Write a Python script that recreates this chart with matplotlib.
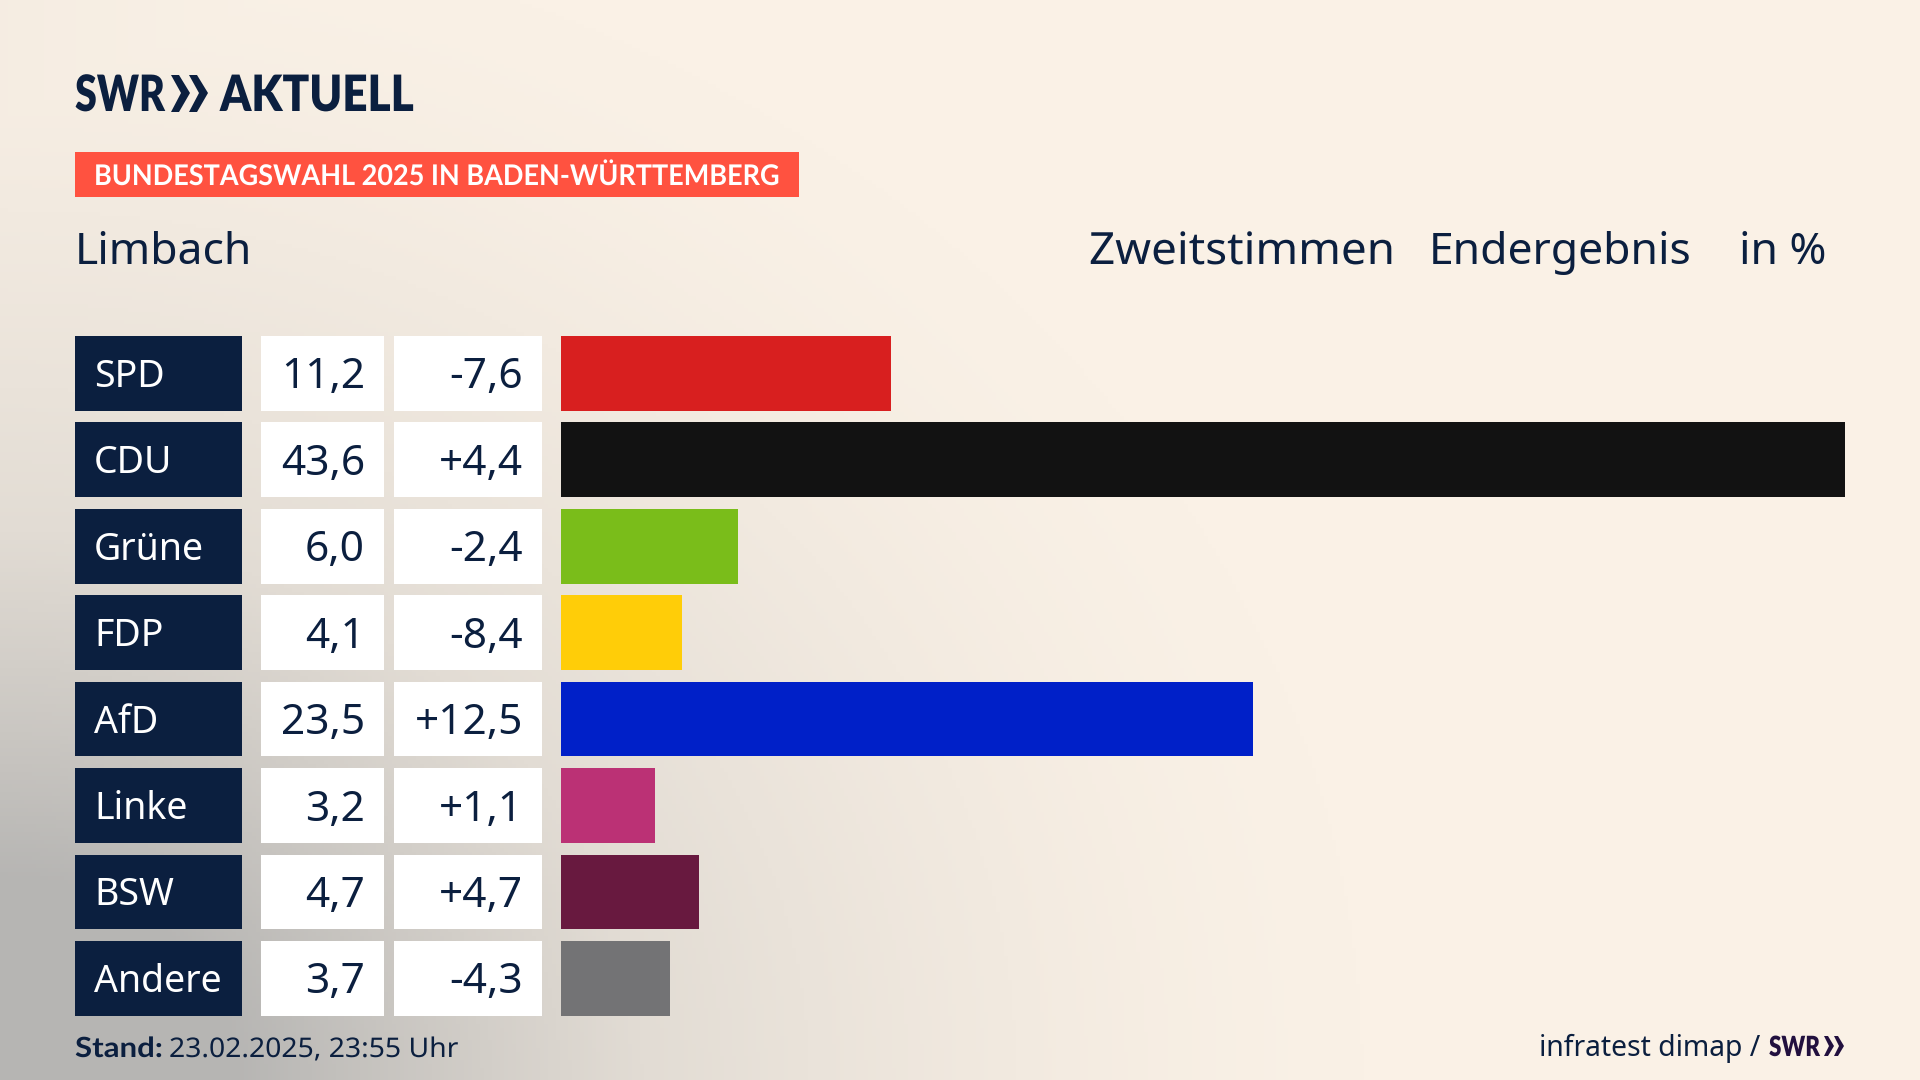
import matplotlib
matplotlib.use('Agg')
import matplotlib.pyplot as plt
from matplotlib.colors import LinearSegmentedColormap
from matplotlib.patches import Polygon, Rectangle
from matplotlib.patheffects import AbstractPathEffect
from matplotlib.transforms import Affine2D
import numpy as np

parties = ['SPD', 'CDU', 'Grüne', 'FDP', 'AfD', 'Linke', 'BSW', 'Andere']
values = [11.2, 43.6, 6.0, 4.1, 23.5, 3.2, 4.7, 3.7]
value_labels = ['11,2', '43,6', '6,0', '4,1', '23,5', '3,2', '4,7', '3,7']
change_labels = ['-7,6', '+4,4', '-2,4', '-8,4', '+12,5', '+1,1', '+4,7', '-4,3']
bar_colors = ['#d81f1f', '#121212', '#7abd1a', '#ffcd08',
              '#0020c8', '#bb3175', '#68193f', '#737375']

DARK = '#0b1f3f'
PURPLE = '#22103f'
plt.rcParams['font.family'] = 'Noto Sans'


class XScale(AbstractPathEffect):
    # squeezes a left aligned text around its start, no condensed font is installed
    def __init__(self, sx):
        self.sx = sx

    def draw_path(self, renderer, gc, tpath, affine, rgbFace=None):
        x0 = affine.get_matrix()[0, 2]
        squeeze = Affine2D().translate(-x0, 0).scale(self.sx, 1).translate(x0, 0)
        renderer.draw_path(gc, tpath, affine + squeeze, rgbFace)


fig = plt.figure(figsize=(19.2, 10.8), dpi=100)
renderer = fig.canvas.get_renderer()


def fit_text(x, y, s, width, **kw):
    t = ax.text(x, y, s, va='baseline', **kw)
    t.set_path_effects([XScale(width / t.get_window_extent(renderer).width)])
    return t


# page in pixel coordinates
ax = fig.add_axes([0, 0, 1, 1], zorder=0)
yy, xx = np.mgrid[0:1080:270j, 0:1920:480j]
corner = np.clip(1 - np.hypot(xx / 1400, (1080 - yy) / 1200), 0, 1) ** 1.6
edge = np.clip(1 - xx / 420, 0, 1) ** 1.5 * np.clip(yy / 500, 0.25, 1) * 0.3
shade = np.maximum(corner, edge)
cmap = LinearSegmentedColormap.from_list('bg', ['#faf1e6', '#e2dcd4', '#b6b5b3'])
ax.imshow(shade, extent=(0, 1920, 1080, 0), cmap=cmap, vmin=0, vmax=0.75, aspect='auto')
ax.set_xlim(0, 1920)
ax.set_ylim(1080, 0)
ax.axis('off')

# logo
fit_text(75, 111, 'SWR', 90, fontsize=36, fontweight='heavy', family='Lato', color=DARK)
fit_text(220, 111, 'AKTUELL', 194, fontsize=36, fontweight='heavy', family='Lato', color=DARK)
for dx in (0, 18):
    ax.add_patch(Polygon([(171 + dx, 75), (179 + dx, 75), (190 + dx, 93), (179 + dx, 112),
                          (171 + dx, 112), (181 + dx, 93)], color=DARK, lw=0))

# banner
ax.add_patch(Rectangle((75, 152), 724, 45, color='#ff5240', lw=0))
fit_text(94, 185, 'BUNDESTAGSWAHL 2025 IN BADEN-WÜRTTEMBERG', 685, fontsize=20.5, fontweight='bold',
         family='Lato', color='white')

# header
ax.text(75, 264, 'Limbach', fontsize=32, color=DARK, va='baseline')
fit_text(1089, 264, 'Zweitstimmen', 306, fontsize=32, color=DARK)
ax.text(1429, 264, 'Endergebnis', fontsize=32, color=DARK, va='baseline')
ax.text(1739, 264, 'in %', fontsize=32, color=DARK, va='baseline')

# table cells left of the bars
row_top = 336
row_step = 86.43
row_h = 74.7
for i, party in enumerate(parties):
    top = row_top + i * row_step
    mid = top + row_h / 2
    ax.add_patch(Rectangle((75, top), 167, row_h, color=DARK, lw=0))
    ax.add_patch(Rectangle((261, top), 123, row_h, color='white', lw=0))
    ax.add_patch(Rectangle((394, top), 148, row_h, color='white', lw=0))
    ax.text(94, mid + 13.5, party, fontsize=27, color='white', va='baseline')
    ax.text(365, mid + 15, value_labels[i], fontsize=30.5, color=DARK, ha='right', va='baseline')
    ax.text(523, mid + 15, change_labels[i], fontsize=30.5, color=DARK, ha='right', va='baseline')

# footer
fit_text(75, 1057, 'Stand:', 88, fontsize=20, fontweight='bold', family='Lato', color=DARK)
fit_text(169, 1057, '23.02.2025, 23:55 Uhr', 289, fontsize=19.5, color=DARK)
ax.text(1760, 1056, 'infratest dimap /', fontsize=20.4, color=DARK, ha='right', va='baseline')
fit_text(1769, 1056, 'SWR', 51, fontsize=20, fontweight='heavy', family='Lato', color=PURPLE)
for dx in (0, 10):
    ax.add_patch(Polygon([(1824 + dx, 1036), (1828 + dx, 1036), (1834 + dx, 1046), (1828 + dx, 1056),
                          (1824 + dx, 1056), (1829 + dx, 1046)], color=PURPLE, lw=0))

# bars, CDU reaches the right end
bar_ax = fig.add_axes([561 / 1920, 1 - (row_top + row_h / 2 + 7.5 * row_step) / 1080,
                       (1845 - 561) / 1920, 8 * row_step / 1080], zorder=1)
bar_ax.barh(np.arange(len(parties)), values, height=row_h / row_step, color=bar_colors)
bar_ax.set_xlim(0, 43.6)
bar_ax.set_ylim(7.5, -0.5)
bar_ax.axis('off')

fig.savefig('out.png', dpi=100)
